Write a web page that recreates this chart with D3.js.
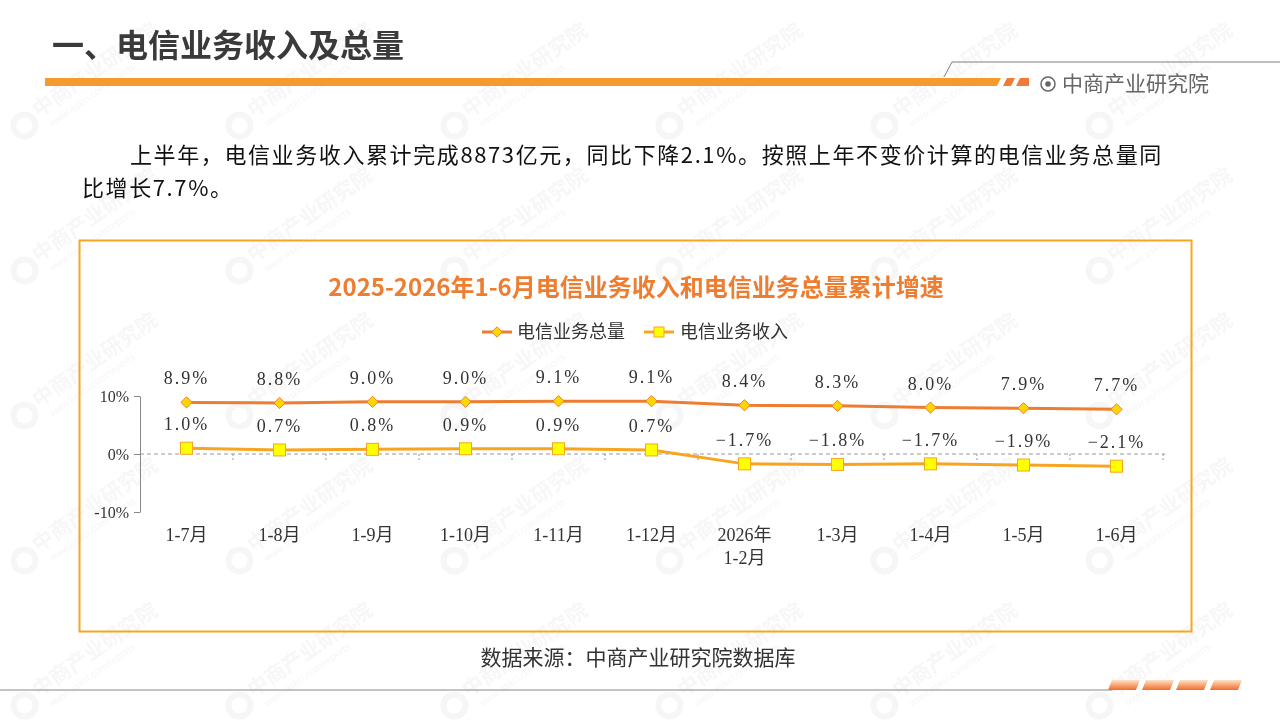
<!DOCTYPE html>
<html>
<head>
<meta charset="utf-8">
<script src="https://cdn.jsdelivr.net/npm/d3@7"></script>
<style>
  body { margin: 0; background: #fff; }
  svg { display: block; }
</style>
</head>
<body>
<svg id="chart" width="1280" height="720"></svg>
<script>
// chart data
var categories = ["1-7月", "1-8月", "1-9月", "1-10月", "1-11月", "1-12月", "2026年\n1-2月", "1-3月", "1-4月", "1-5月", "1-6月"];
var totalGrowth = [8.9, 8.8, 9.0, 9.0, 9.1, 9.1, 8.4, 8.3, 8.0, 7.9, 7.7];
var revenueGrowth = [1.0, 0.7, 0.8, 0.9, 0.9, 0.7, -1.7, -1.8, -1.7, -1.9, -2.1];
var seriesNames = ["电信业务总量", "电信业务收入"];
var yTicks = [10, 0, -10];

var svg = d3.select("#chart");
var cjk = "'Noto Sans CJK SC', 'Noto Sans', sans-serif";
var serif = "'Liberation Serif', 'Noto Sans CJK SC', serif";

// faint watermarks, kept inside the page
var wm = svg.append("g").attr("opacity", 0.5);
for (var r = 0; r < 5; r++) {
  for (var c = 0; c < 6; c++) {
    var wx = c * 215 + 14;
    var wy = r * 145 + 128;
    var g = wm.append("g").attr("transform", "translate(" + wx + "," + wy + ") rotate(-35)");
    g.append("circle").attr("cx", 10).attr("cy", 4).attr("r", 11)
      .attr("fill", "none").attr("stroke", "#ececec").attr("stroke-width", 6);
    g.append("text").attr("x", 26).attr("y", 6).text("中商产业研究院")
      .attr("font-family", cjk).attr("font-size", 21).attr("font-weight", "bold").attr("fill", "#eeeeee");
    g.append("text").attr("x", 32).attr("y", 21).text("www.askci.com/reports")
      .attr("font-family", "Liberation Sans, sans-serif").attr("font-size", 10).attr("fill", "#ececec");
  }
}

// header
svg.append("text").attr("x", 52).attr("y", 57)
  .text("一、电信业务收入及总量")
  .attr("font-family", cjk).attr("font-size", 32).attr("font-weight", "bold").attr("fill", "#3a3a3a");

svg.append("path").attr("d", "M45,78 L1001,78 L997,86 L45,86 Z").attr("fill", "#F59A2C");
svg.append("path").attr("d", "M1007,78 L1015,78 L1011,86 L1003,86 Z").attr("fill", "#F07A3A");
svg.append("path").attr("d", "M1020,78 L1029,78 L1029,86 L1016,86 Z").attr("fill", "#F07A3A");
svg.append("polyline").attr("points", "944,77 952,62 1280,62")
  .attr("fill", "none").attr("stroke", "#808080").attr("stroke-width", 1);

svg.append("circle").attr("cx", 1048).attr("cy", 84).attr("r", 7)
  .attr("fill", "none").attr("stroke", "#666").attr("stroke-width", 1.5);
svg.append("circle").attr("cx", 1048).attr("cy", 84).attr("r", 2.8).attr("fill", "#666");
svg.append("text").attr("x", 1062).attr("y", 91).text("中商产业研究院")
  .attr("font-family", cjk).attr("font-size", 21).attr("fill", "#666");

// paragraph
svg.append("text").attr("x", 130).attr("y", 163)
  .text("上半年，电信业务收入累计完成8873亿元，同比下降2.1%。按照上年不变价计算的电信业务总量同")
  .attr("font-family", cjk).attr("font-size", 22).attr("letter-spacing", 1.6).attr("fill", "#111");
svg.append("text").attr("x", 82).attr("y", 196)
  .text("比增长7.7%。")
  .attr("font-family", cjk).attr("font-size", 22).attr("letter-spacing", 1.6).attr("fill", "#111");

// chart frame
svg.append("rect").attr("x", 79.5).attr("y", 240.5).attr("width", 1112).attr("height", 391)
  .attr("fill", "none").attr("stroke", "#F5A623").attr("stroke-width", 2);

svg.append("text").attr("x", 636).attr("y", 296).attr("text-anchor", "middle")
  .text("2025-2026年1-6月电信业务收入和电信业务总量累计增速")
  .attr("font-family", cjk).attr("font-size", 24).attr("font-weight", "bold").attr("fill", "#ED7D31");

var colTotal = "#ED7D31", colRev = "#F7A520";

// legend
var lg = svg.append("g").attr("font-family", cjk).attr("font-size", 18).attr("fill", "#333");
lg.append("line").attr("x1", 482).attr("x2", 512).attr("y1", 332).attr("y2", 332)
  .attr("stroke", colTotal).attr("stroke-width", 3);
lg.append("path").attr("d", d3.symbol(d3.symbolDiamond2, 70)()).attr("transform", "translate(497,332)")
  .attr("fill", "#FFD700").attr("stroke", colTotal).attr("stroke-width", 1);
lg.append("text").attr("x", 517).attr("y", 338).text(seriesNames[0]);
lg.append("line").attr("x1", 644).attr("x2", 674).attr("y1", 332).attr("y2", 332)
  .attr("stroke", colRev).attr("stroke-width", 3);
lg.append("rect").attr("x", 654).attr("y", 327).attr("width", 10).attr("height", 10)
  .attr("fill", "#FFFF00").attr("stroke", colRev).attr("stroke-width", 1);
lg.append("text").attr("x", 680).attr("y", 338).text(seriesNames[1]);

// scales
var x = d3.scaleBand().domain(categories).range([140, 1163]);
var y = d3.scaleLinear().domain([-10, 10]).range([512, 396]);
var cx = function (d, i) { return x(categories[i]) + x.bandwidth() / 2; };

// zero line + category ticks
svg.append("line").attr("x1", 140).attr("x2", 1165).attr("y1", y(0)).attr("y2", y(0))
  .attr("stroke", "#999").attr("stroke-dasharray", "4,3");
svg.append("g").selectAll("line").data(categories).enter().append("line")
  .attr("x1", function (d) { return x(d) + x.bandwidth(); })
  .attr("x2", function (d) { return x(d) + x.bandwidth(); })
  .attr("y1", y(0)).attr("y2", y(0) + 6)
  .attr("stroke", "#999").attr("stroke-dasharray", "2,2");

// y axis
var yAxis = svg.append("g").attr("transform", "translate(140,0)")
  .call(d3.axisLeft(y).tickValues(yTicks).tickSize(6).tickSizeOuter(0).tickPadding(5)
    .tickFormat(function (d) { return d + "%"; }));
yAxis.select(".domain").attr("stroke", "#888");
yAxis.selectAll(".tick line").attr("stroke", "#888");
yAxis.selectAll("text").attr("font-family", serif).attr("font-size", 16).attr("fill", "#333");

// x labels
var xl = svg.append("g").attr("font-family", serif).attr("font-size", 18).attr("fill", "#333")
  .attr("text-anchor", "middle");
categories.forEach(function (c, i) {
  var t = xl.append("text").attr("x", cx(c, i)).attr("y", 541);
  c.split("\n").forEach(function (part, k) {
    t.append("tspan").attr("x", cx(c, i)).attr("dy", k === 0 ? 0 : 23).text(part);
  });
});

// lines
var lineGen = d3.line().x(cx).y(function (d) { return y(d); });
svg.append("path").datum(revenueGrowth).attr("d", lineGen)
  .attr("fill", "none").attr("stroke", colRev).attr("stroke-width", 3);
svg.append("path").datum(totalGrowth).attr("d", lineGen)
  .attr("fill", "none").attr("stroke", colTotal).attr("stroke-width", 3);

// markers
svg.append("g").selectAll("path").data(totalGrowth).enter().append("path")
  .attr("d", d3.symbol(d3.symbolDiamond2, 80)())
  .attr("transform", function (d, i) { return "translate(" + cx(d, i) + "," + y(d) + ")"; })
  .attr("fill", "#FFD700").attr("stroke", colTotal).attr("stroke-width", 1);
svg.append("g").selectAll("rect").data(revenueGrowth).enter().append("rect")
  .attr("x", function (d, i) { return cx(d, i) - 6; })
  .attr("y", function (d) { return y(d) - 6; })
  .attr("width", 12).attr("height", 12)
  .attr("fill", "#FFFF00").attr("stroke", colRev).attr("stroke-width", 1);

// data labels
function addLabels(data) {
  svg.append("g").selectAll("text").data(data).enter().append("text")
    .attr("x", cx).attr("y", function (d) { return y(d) - 18; })
    .attr("text-anchor", "middle")
    .attr("font-family", serif).attr("font-size", 18).attr("letter-spacing", 2).attr("fill", "#333")
    .text(function (d) { return (d < 0 ? "−" : "") + Math.abs(d).toFixed(1) + "%"; });
}
addLabels(totalGrowth);
addLabels(revenueGrowth);

// source
svg.append("text").attr("x", 638).attr("y", 665).attr("text-anchor", "middle")
  .text("数据来源：中商产业研究院数据库")
  .attr("font-family", cjk).attr("font-size", 21).attr("fill", "#333");

// footer
svg.append("line").attr("x1", 0).attr("x2", 1112).attr("y1", 690).attr("y2", 690)
  .attr("stroke", "#888").attr("stroke-width", 1);
var grad = svg.append("defs").append("linearGradient").attr("id", "fg")
  .attr("x1", 0).attr("y1", 0).attr("x2", 0).attr("y2", 1);
grad.append("stop").attr("offset", "0%").attr("stop-color", "#FDE3C8");
grad.append("stop").attr("offset", "100%").attr("stop-color", "#F26B2A");
[1108, 1142, 1176, 1210].forEach(function (fx) {
  svg.append("path").attr("d", "M" + (fx + 4) + ",680 L" + (fx + 32) + ",680 L" + (fx + 28) + ",690 L" + fx + ",690 Z")
    .attr("fill", "url(#fg)");
});
</script>
</body>
</html>
